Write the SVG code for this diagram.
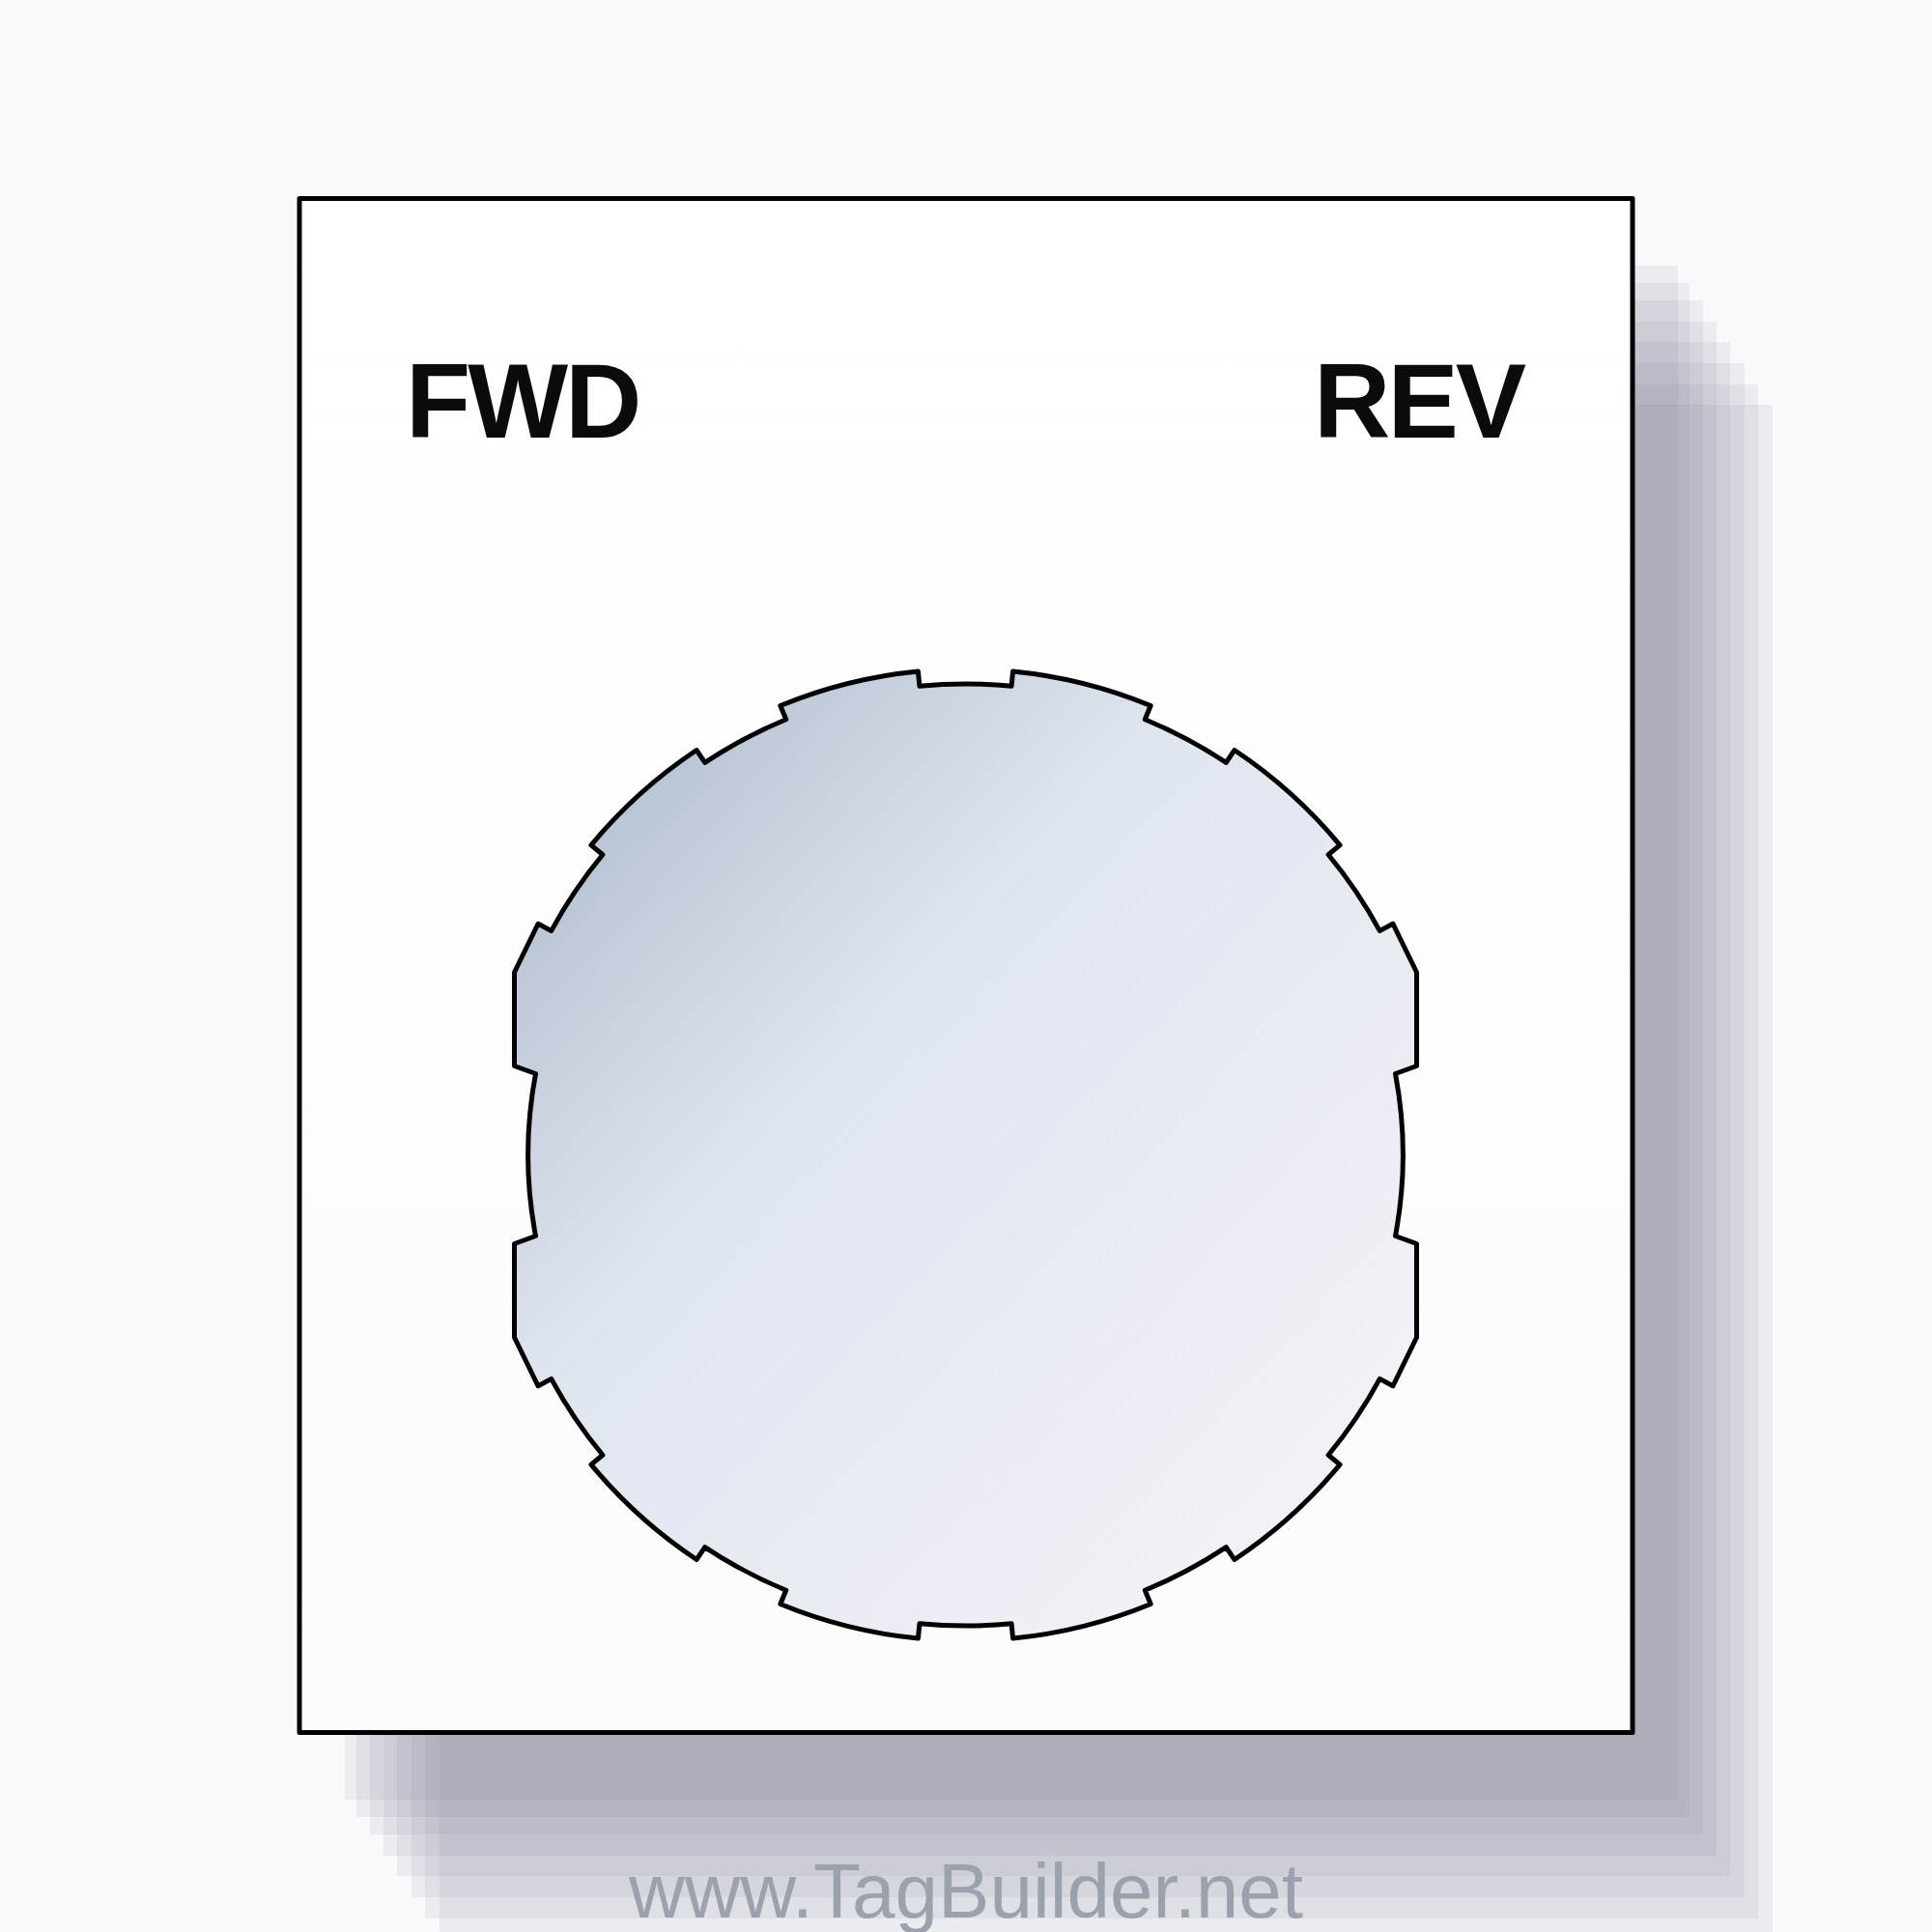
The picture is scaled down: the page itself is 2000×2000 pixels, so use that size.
<svg xmlns="http://www.w3.org/2000/svg" width="2000" height="2000" viewBox="0 0 2000 2000">
  <defs>
    <linearGradient id="plateFill" x1="0" y1="0" x2="0" y2="1">
      <stop offset="0" stop-color="#ffffff"/>
      <stop offset="1" stop-color="#fbfbfb"/>
    </linearGradient>
    <linearGradient id="knobFill" x1="0" y1="0" x2="1" y2="1">
      <stop offset="0" stop-color="#a6b4c7"/>
      <stop offset="0.38" stop-color="#dfe5ee"/>
      <stop offset="1" stop-color="#f4f6f9"/>
    </linearGradient>
  </defs>
  <style>
    .shadow { fill: #737988; fill-opacity: 0.095; }
    .plate { fill: url(#plateFill); stroke: #000000; stroke-width: 5; stroke-linejoin: round; }
    .knob { fill: url(#knobFill); stroke: #000000; stroke-width: 5; stroke-linejoin: round; }
    .label { font-family: "Liberation Sans", Arial, sans-serif; font-weight: bold; font-size: 110px; fill: #0b0b0b; letter-spacing: -3px; }
    .mark { font-family: "Liberation Sans", Arial, sans-serif; font-size: 80px; fill: #9ca2ad; }
  </style>
  <rect x="0" y="0" width="2000" height="2000" fill="#f8f9fb"/>
  <g id="shadow">
    <rect class="shadow" x="357" y="275" width="1380" height="1588"/>
    <rect class="shadow" x="369" y="293" width="1380" height="1588"/>
    <rect class="shadow" x="383" y="311" width="1380" height="1588"/>
    <rect class="shadow" x="397" y="333" width="1380" height="1588"/>
    <rect class="shadow" x="411" y="354" width="1380" height="1588"/>
    <rect class="shadow" x="426" y="376" width="1380" height="1588"/>
    <rect class="shadow" x="440" y="398" width="1380" height="1588"/>
    <rect class="shadow" x="455" y="419" width="1380" height="1588"/>
  </g>
  <g id="plate">
    <rect class="plate" x="310" y="205.5" width="1380" height="1588"/>
  </g>
  <g id="label-fwd">
    <text class="label" x="420" y="452.7">FWD</text>
  </g>
  <g id="label-rev">
    <text class="label" x="1360" y="452.7">REV</text>
  </g>
  <g id="knob">
    <path class="knob" d="M 950.42,694.90 L 951.93,710.33 A 487.5 487.5 0 0 1 1047.07,710.33 L 1048.58,694.90 A 503 503 0 0 1 1191.18,730.45 L 1185.27,744.78 A 487.5 487.5 0 0 1 1269.28,789.45 L 1277.86,776.54 A 503 503 0 0 1 1387.07,874.88 L 1375.12,884.76 A 487.5 487.5 0 0 1 1428.33,963.64 L 1441.96,956.26 L 1466.5,1006.5 L 1466.5,1103.5 L 1444.5,1111.5 A 452.9 452.9 0 0 1 1444.5,1279.5 L 1466.5,1287.5 L 1466.5,1384.5 L 1441.96,1434.74 L 1428.33,1427.36 A 487.5 487.5 0 0 1 1375.12,1506.24 L 1387.07,1516.12 A 503 503 0 0 1 1277.86,1614.46 L 1269.28,1601.55 A 487.5 487.5 0 0 1 1185.27,1646.22 L 1191.18,1660.55 A 503 503 0 0 1 1048.58,1696.10 L 1047.07,1680.67 A 487.5 487.5 0 0 1 951.93,1680.67 L 950.42,1696.10 A 503 503 0 0 1 807.82,1660.55 L 813.73,1646.22 A 487.5 487.5 0 0 1 729.72,1601.55 L 721.14,1614.46 A 503 503 0 0 1 611.93,1516.12 L 623.88,1506.24 A 487.5 487.5 0 0 1 570.67,1427.36 L 557.04,1434.74 L 532.5,1384.5 L 532.5,1287.5 L 554.5,1279.5 A 452.9 452.9 0 0 1 554.5,1111.5 L 532.5,1103.5 L 532.5,1006.5 L 557.04,956.26 L 570.67,963.64 A 487.5 487.5 0 0 1 623.88,884.76 L 611.93,874.88 A 503 503 0 0 1 721.14,776.54 L 729.72,789.45 A 487.5 487.5 0 0 1 813.73,744.78 L 807.82,730.45 A 503 503 0 0 1 950.42,694.90 Z"/>
  </g>
  <g id="watermark">
    <text class="mark" x="1000" y="1985" text-anchor="middle">www.TagBuilder.net</text>
  </g>
</svg>
